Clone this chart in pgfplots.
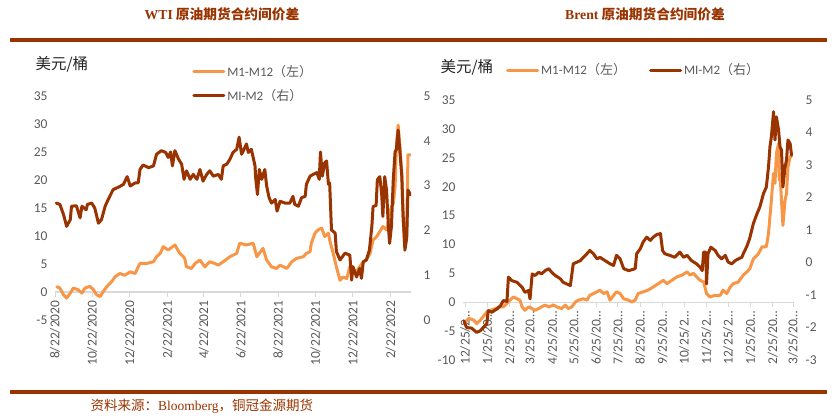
\documentclass[border=0pt]{standalone}
\usepackage{pgfplots}
\pgfplotsset{compat=1.18}
\usepackage{pgfplotstable}
\usepackage{fontspec}
\setmainfont{Carlito}
\newfontfamily\cjk{Noto Sans CJK SC}
\newfontfamily\tnr{Liberation Serif}
\definecolor{lo}{HTML}{F79646}
\definecolor{dk}{HTML}{993300}
\definecolor{tg}{HTML}{595959}
\definecolor{ag}{HTML}{D9D9D9}
\newcommand{\lgf}{\fontsize{13}{15}\selectfont}

% WTI M1-M12 (left axis), x = days since 8/22/2020
\pgfplotstableread{
d v
3 0.95
8 0.7
14 -0.5
19 -1.1
25 -0.2
30 0.7
38 0.4
44 -0.2
49 0.7
57 1.0
63 0.4
68 -0.5
74 -0.8
79 0.1
85 1.0
93 1.9
98 2.7
106 3.3
114 3.0
123 3.6
131 3.3
136 4.5
139 5.1
150 5.1
161 5.4
166 6.3
172 6.9
177 8.1
185 7.5
196 8.4
204 6.9
210 6.3
212 6.0
215 4.5
223 4.2
229 5.1
237 5.7
245 4.5
253 5.4
261 5.1
267 4.8
275 5.4
286 6.3
297 6.9
302 8.7
313 8.4
324 8.7
330 6.3
340 7.8
346 5.7
354 4.5
362 4.2
368 4.8
379 4.2
387 5.4
395 6.0
406 6.3
411 6.9
417 7.2
419 8.7
425 10.5
430 11.1
436 11.4
441 9.9
447 10.5
449 9.3
455 6.8
460 4.5
466 2.1
471 2.7
477 2.4
482 4.5
487 4.2
493 3.6
498 4.5
504 5.4
509 5.7
515 6.9
520 9.3
526 9.9
531 10.8
536 11.7
542 11.1
545 12.3
547 14.1
550 15.2
553 15.8
556 18.8
558 25.9
561 29.8
564 25.9
567 21.1
569 12.9
572 8.1
575 10.5
577 24.5
580 24.5
582 24.5
}\wtiL

% WTI MI-M2 (right axis)
\pgfplotstableread{
d v
2 2.61
8 2.58
14 2.35
19 2.09
25 2.24
27 2.54
35 2.55
41 2.28
44 2.54
51 2.46
53 2.58
60 2.61
65 2.50
71 2.16
76 2.24
82 2.54
87 2.69
95 2.91
106 2.98
112 3.03
118 3.20
123 2.99
131 3.06
136 3.06
139 3.36
144 3.46
153 3.40
161 3.44
166 3.70
174 3.78
181 3.74
185 3.63
189 3.75
192 3.44
196 3.78
202 3.59
207 3.48
211 3.14
215 3.33
221 3.14
226 3.25
232 3.14
237 3.36
242 3.10
248 3.25
253 3.33
259 3.21
267 3.25
272 3.14
275 3.44
281 3.48
286 3.59
291 3.74
297 3.81
301 4.08
305 3.70
308 3.78
313 3.93
316 3.74
321 3.81
327 3.44
328 3.18
331 2.80
334 3.36
338 3.14
343 3.36
346 2.99
350 2.73
354 2.61
360 2.69
363 2.43
368 2.65
376 2.61
384 2.61
389 2.76
392 2.58
398 2.54
403 2.73
409 2.76
411 3.03
417 3.21
422 3.25
428 3.29
432 3.14
434 3.75
437 3.21
441 3.51
444 3.55
447 3.03
449 3.06
452 2.01
458 1.94
460 1.53
466 1.34
474 1.49
482 1.45
485 0.89
487 1.19
493 0.96
498 1.15
501 0.93
504 1.30
509 1.34
514 1.56
518 2.09
520 2.53
525 2.56
527 3.13
531 3.20
534 2.83
536 2.31
539 3.20
542 2.90
545 2.09
547 1.71
550 2.09
553 3.13
556 3.76
558 3.80
561 4.24
564 3.73
567 3.20
569 2.39
572 1.56
575 1.83
577 2.90
580 2.83
582 2.79
}\wtiR

% Brent M1-M12 (left axis), x = days since 12/25/2020
\pgfplotstableread{
d v
-2 -3.7
5 -2.8
12 -3.1
16 -3.7
21 -3.1
25 -2.5
30 -1.7
35 -1.4
42 -1.1
49 -0.8
53 -0.8
58 -0.2
62 0.35
67 0.9
72 0.6
76 0.35
79 -0.8
83 -1.4
88 -0.8
93 -1.1
97 -1.4
102 -1.1
106 -0.8
111 -0.5
116 -0.8
123 -0.5
127 -0.8
134 -1.1
139 -0.5
143 -1.1
148 -0.8
153 0.05
157 0.35
164 0.6
169 0.35
173 1.2
178 1.5
183 1.8
187 2.1
192 1.5
197 1.8
201 0.35
206 1.2
210 1.8
215 1.5
220 0.6
227 0.35
231 0.05
236 0.35
240 1.5
247 1.8
254 2.1
261 2.65
268 3.2
275 3.8
280 3.2
287 3.8
294 4.4
301 4.7
308 5.25
312 4.7
317 5.0
321 4.4
326 3.8
331 3.5
335 1.5
340 0.9
347 1.2
354 1.2
358 2.1
363 1.5
368 2.65
372 3.2
379 3.5
386 4.7
391 5.25
395 5.8
400 7.5
407 8.4
412 9.6
418 9.6
421 11.9
425 17.7
428 22.3
430 20.6
432 25.8
435 27.5
436 21.1
437 22.3
439 17.7
441 13.3
444 17.7
446 18.8
448 23.4
451 25.2
453 25.2
}\brL

% Brent MI-M2 (right axis)
\pgfplotstableread{
d v
-2 -1.79
2 -2.0
9 -2.02
16 -2.15
21 -2.1
25 -2.0
30 -1.89
32 -1.48
37 -1.53
44 -1.43
49 -1.33
53 -1.17
58 -1.2
60 -0.45
65 -0.56
72 -0.61
79 -0.76
83 -0.92
88 -0.86
90 -1.12
93 -0.35
97 -0.40
102 -0.30
106 -0.35
111 -0.25
116 -0.19
120 -0.30
125 -0.40
132 -0.50
136 -0.61
141 -0.66
146 -0.71
150 -0.04
155 0.01
160 0.06
164 0.16
169 0.27
173 0.37
178 0.27
183 0.11
187 0.16
194 0.06
201 -0.04
206 -0.09
210 0.22
215 0.11
220 -0.19
227 -0.25
236 -0.19
238 0.27
243 0.42
247 0.63
252 0.78
257 0.68
261 0.78
266 0.86
271 0.89
274 0.37
277 0.27
284 0.22
291 0.16
298 0.32
303 0.16
308 0.22
314 0.06
321 -0.04
326 -0.14
329 -0.25
331 0.32
334 0.32
335 -0.66
337 0.27
341 0.47
347 0.37
351 0.22
356 0.11
361 0.22
365 0.01
370 -0.04
375 0.06
379 0.11
384 0.16
386 0.27
391 0.50
395 0.75
400 1.2
405 1.50
409 1.71
414 2.12
418 2.32
421 2.94
423 3.56
425 3.87
428 4.64
430 3.77
432 4.48
435 4.07
437 3.56
439 3.46
441 2.32
444 2.94
446 3.15
448 3.77
451 3.66
453 3.30
}\brR

\pgfplotsset{
  base/.style={
    scale only axis, anchor=south west,
    /pgf/number format/assume math mode=true,
    tick label style={font=\fontsize{13.5}{15}\selectfont, text=tg},
    hide obscured x ticks=false, hide obscured y ticks=false,
    every axis plot/.append style={line width=3pt, line join=round, line cap=round},
    ytick style={draw=none},
  },
  leftax/.style={base,
    axis x line=middle, axis y line=left,
    y axis line style={draw=none},
    x axis line style={draw=ag, line width=1.3pt, -},
    xtick style={draw=ag, line width=1pt},
    major tick length=5pt, tick align=outside,
    xticklabel style={rotate=90, anchor=east},
    yticklabel style={xshift=1pt},
    legend style={draw=none, fill=none, inner sep=0pt,
      font=\lgf, text=tg, legend cell align=left},
    legend image code/.code={\draw[##1] (0pt,0pt) -- (30pt,0pt);},
  },
  rightax/.style={base,
    axis x line=none, axis y line=right,
    y axis line style={draw=none},
    yticklabel style={anchor=west, xshift=7pt},
  },
}

\begin{document}
\begin{tikzpicture}
\path[use as bounding box] (0pt,0pt) rectangle (840pt,418pt);

% titles, rules, footer
\node[text=dk, font=\fontsize{13.7}{15}\selectfont\bfseries] at (222pt,404pt)
  {{\tnr\bfseries WTI} {\cjk\bfseries 原油期货合约间价差}};
\node[text=dk, font=\fontsize{13.7}{15}\selectfont\bfseries] at (645pt,404pt)
  {{\tnr\bfseries Brent} {\cjk\bfseries 原油期货合约间价差}};
\draw[dk, line width=3.5pt] (10pt,378pt) -- (827pt,378pt);
\draw[dk, line width=3.5pt] (10pt,26pt) -- (827pt,26pt);
\node[anchor=west, text=dk, font=\fontsize{13.5}{15}\selectfont] at (87pt,12pt)
  {{\cjk 资料来源：}{\tnr Bloomberg}{\cjk ，铜冠金源期货}};

% unit labels
\node[anchor=west, text=black!85, font=\cjk\fontsize{15.5}{17}\selectfont] at (32pt,354pt) {美元/桶};
\node[anchor=west, text=black!85, font=\cjk\fontsize{15.5}{17}\selectfont] at (437pt,351pt) {美元/桶};

% ---------- WTI ----------
\begin{axis}[leftax, at={(55pt,98pt)}, width=356pt, height=224pt,
  xmin=0, xmax=582, ymin=-5, ymax=35, ytick={-5,0,...,35},
  xtick={0,61,122,184,243,304,365,426,487,549},
  xticklabels={8/22/2020,10/22/2020,12/22/2020,2/22/2021,4/22/2021,6/22/2021,8/22/2021,10/22/2021,12/22/2021,2/22/2022},
  legend style={at={(0.385,1.055)}, anchor=west, row sep=8pt},
]
\addplot[lo] table[x=d,y=v] {\wtiL};
\addlegendentry{\lgf M1-M12{\cjk（左）}}
\addlegendimage{dk, line width=3pt}
\addlegendentry{\lgf MI-M2{\cjk（右）}}
\end{axis}
\begin{axis}[rightax, at={(55pt,98pt)}, width=356pt, height=224pt,
  xmin=0, xmax=582, ymin=0, ymax=5, ytick={0,1,...,5}]
\addplot[dk] table[x=d,y=v] {\wtiR};
\end{axis}

% ---------- Brent ----------
\begin{axis}[leftax, at={(463pt,58pt)}, width=330pt, height=260pt,
  xmin=-3, xmax=455, ymin=-10, ymax=35, ytick={-10,-5,...,35},
  xtick={0,31,62,90,121,151,182,212,243,274,304,335,365,396,427,455},
  xticklabels={12/25/2…,1/25/20…,2/25/20…,3/25/20…,4/25/20…,5/25/20…,6/25/20…,7/25/20…,8/25/20…,9/25/20…,10/25/2…,11/25/2…,12/25/2…,1/25/20…,2/25/20…,3/25/20…},
  legend columns=2,
  legend style={at={(0.13,1.115)}, anchor=west,
    /tikz/every even column/.append style={column sep=21pt}},
]
\addplot[lo] table[x=d,y=v] {\brL};
\addlegendentry{\lgf M1-M12{\cjk（左）}}
\addlegendimage{dk, line width=3pt}
\addlegendentry{\lgf MI-M2{\cjk（右）}}
\end{axis}
\begin{axis}[rightax, at={(463pt,58pt)}, width=330pt, height=260pt,
  xmin=-3, xmax=455, ymin=-3, ymax=5, ytick={-3,-2,...,5}]
\addplot[dk] table[x=d,y=v] {\brR};
\end{axis}
\end{tikzpicture}
\end{document}
